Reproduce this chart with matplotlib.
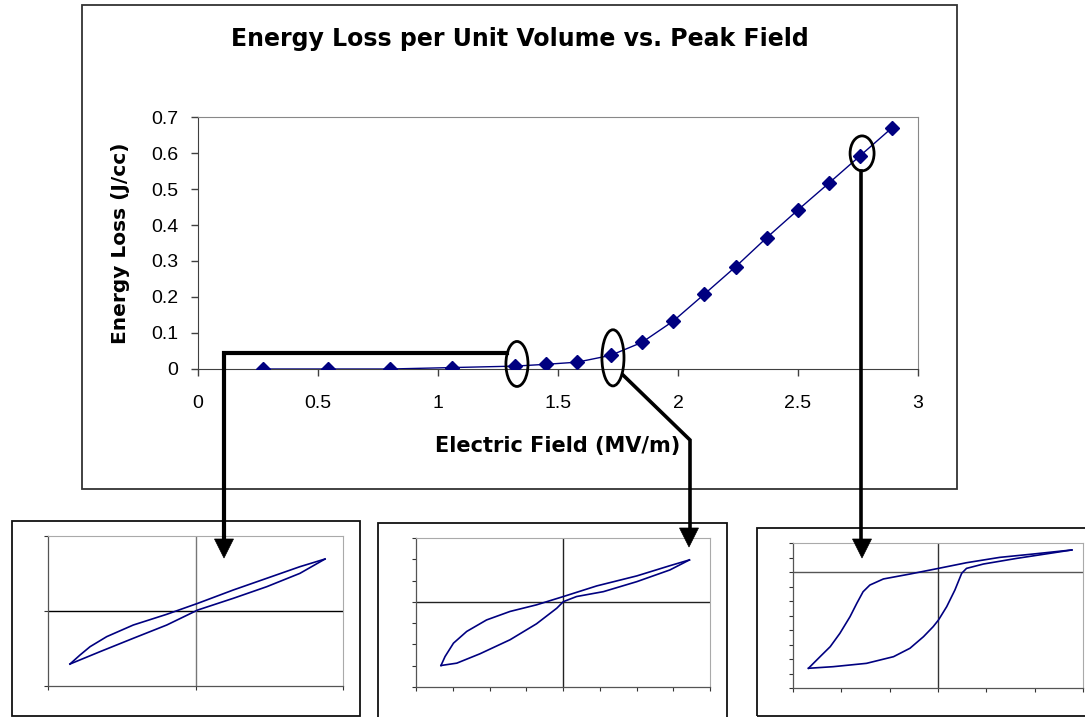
import numpy as np
import matplotlib
matplotlib.use("Agg")
import matplotlib.pyplot as plt
from matplotlib.patches import Ellipse, Rectangle, Polygon
from matplotlib.lines import Line2D
from matplotlib.ticker import FormatStrFormatter

plt.rcParams['font.family'] = ['Liberation Sans', 'DejaVu Sans']

# main curve: energy loss vs peak field
field = [0.27, 0.54, 0.80, 1.06, 1.32, 1.45, 1.58, 1.72, 1.85, 1.98, 2.11, 2.24, 2.37, 2.50, 2.63, 2.76, 2.89]
loss = [0.0, 0.0, 0.0, 0.004, 0.008, 0.013, 0.019, 0.038, 0.074, 0.133, 0.208, 0.284, 0.365, 0.442, 0.517, 0.593, 0.669]

# circled points (centre x, centre y, width, height) in data units
circles = [(1.329, 0.014, 0.092, 0.125),
           (1.729, 0.031, 0.092, 0.156),
           (2.767, 0.599, 0.100, 0.097)]

# hysteresis loops (upper and lower branch)
loop1_up_x = [-0.851, -0.783, -0.715, -0.602, -0.422, -0.195, 0.015, 0.256, 0.483, 0.708, 0.878]
loop1_up_y = [-0.707, -0.587, -0.476, -0.342, -0.187, -0.044, 0.102, 0.280, 0.436, 0.591, 0.693]
loop1_dn_x = [-0.851, -0.647, -0.422, -0.195, 0.015, 0.256, 0.483, 0.708, 0.878]
loop1_dn_y = [-0.707, -0.542, -0.364, -0.187, 0.013, 0.169, 0.324, 0.502, 0.693]

loop2_up_x = [-3.32, -3.21, -2.98, -2.62, -2.08, -1.44, -0.72, 0.01, 0.92, 2.01, 2.91, 3.44]
loop2_up_y = [-2.99, -2.57, -1.94, -1.39, -0.85, -0.45, -0.14, 0.25, 0.75, 1.22, 1.70, 1.97]
loop2_dn_x = [-3.32, -2.89, -2.26, -1.44, -0.72, -0.17, 0.01, 0.37, 1.10, 2.01, 2.91, 3.44]
loop2_dn_y = [-2.99, -2.88, -2.44, -1.78, -1.03, -0.30, 0.01, 0.25, 0.48, 0.95, 1.50, 1.97]

loop3_up_x = [-2.68, -2.44, -2.23, -2.03, -1.82, -1.68, -1.55, -1.41, -1.13, -0.58, 0.01, 0.59, 1.28, 1.97, 2.77]
loop3_up_y = [-6.64, -5.84, -5.15, -4.23, -3.08, -2.16, -1.36, -0.90, -0.48, -0.14, 0.25, 0.64, 1.01, 1.24, 1.52]
loop3_dn_x = [-2.68, -2.17, -1.48, -0.92, -0.58, -0.30, -0.10, 0.01, 0.18, 0.35, 0.49, 0.59, 0.94, 1.63, 2.32, 2.77]
loop3_dn_y = [-6.64, -6.53, -6.30, -5.84, -5.26, -4.46, -3.77, -3.31, -2.39, -1.24, -0.09, 0.25, 0.55, 0.94, 1.29, 1.52]

navy = '#000080'
W, H = 1085, 717
wide = ['DejaVu Sans']

fig = plt.figure(figsize=(W / 100, H / 100), dpi=100)


def box(l, t, r, b):
    # pixel box -> figure fraction rect
    return [l / W, 1 - b / H, (r - l) / W, (b - t) / H]


def frame(l, t, r, b, color):
    x0, y0, w, h = box(l, t, r, b)
    fig.add_artist(Rectangle((x0, y0), w, h, transform=fig.transFigure,
                             fill=False, ec=color, lw=1.3, zorder=1))


# outer frames
frame(82, 5, 957, 489, '#333333')
frame(12, 521, 360, 716, '#111111')
frame(378, 523, 727, 720, '#111111')
frame(757, 528, 1092, 716, '#111111')

# main chart
ax = fig.add_axes(box(198, 117, 918, 369))
ax.plot(field, loss, color=navy, lw=1.0, marker='D', ms=7.5, mfc=navy, mec=navy, zorder=3)
ax.set_xlim(0, 3)
ax.set_ylim(0, 0.7)
ax.set_xticks(np.arange(0, 3.01, 0.5))
ax.set_yticks(np.arange(0, 0.71, 0.1))
ax.xaxis.set_major_formatter(FormatStrFormatter('%g'))
ax.yaxis.set_major_formatter(FormatStrFormatter('%g'))
ax.tick_params(direction='out', length=5, width=1, color='#404040', labelsize=14)
ax.tick_params(axis='x', pad=14)
ax.tick_params(axis='y', pad=9)
for s in ['top', 'right']:
    ax.spines[s].set_color('#888888')
for s in ['left', 'bottom']:
    ax.spines[s].set_color('#404040')
ax.set_xlabel('Electric Field (MV/m)', fontsize=15, fontweight='bold', family=wide)
ax.set_ylabel('Energy Loss (J/cc)', fontsize=14.5, fontweight='bold', family=wide)
ax.xaxis.set_label_coords(0.5, -0.329)
ax.xaxis.label.set_va('baseline')
ax.yaxis.set_label_coords(-0.108, 0.5)
ax.yaxis.label.set_va('center')

fig.text(519.5 / W, 1 - 46 / H, 'Energy Loss per Unit Volume vs. Peak Field',
         ha='center', va='baseline', fontsize=17, fontweight='bold', family=wide)

for cx, cy, cw, ch in circles:
    ax.add_patch(Ellipse((cx, cy), cw, ch, fill=False, ec='black', lw=2.0,
                         clip_on=False, zorder=5))


# insets with loops
def inset(rect, ux, uy, dx, dy, xlim, ylim, xt, yt, hcol, vcol):
    a = fig.add_axes(box(*rect))
    a.axhline(0, color=hcol, lw=1.0, zorder=1)
    a.axvline(0, color=vcol, lw=1.0, zorder=1)
    a.plot(ux, uy, color=navy, lw=1.2, zorder=3)
    a.plot(dx, dy, color=navy, lw=1.2, zorder=3)
    a.set_xlim(*xlim)
    a.set_ylim(*ylim)
    a.set_xticks(xt)
    a.set_yticks(yt)
    a.set_xticklabels([])
    a.set_yticklabels([])
    a.tick_params(direction='out', length=3, width=0.8, color='#333333')
    for s in ['top', 'right']:
        a.spines[s].set_color('#aaaaaa')
    for s in ['left', 'bottom']:
        a.spines[s].set_color('#555555')
        a.spines[s].set_linewidth(0.9)
    return a


inset((48, 536, 343, 686), loop1_up_x, loop1_up_y, loop1_dn_x, loop1_dn_y,
      (-1, 1), (-1, 1), [-1, 0, 1], [-1, 0, 1], '#000000', '#777777')
inset((416, 538, 710, 687), loop2_up_x, loop2_up_y, loop2_dn_x, loop2_dn_y,
      (-4, 4), (-4, 3), np.arange(-4, 5), np.arange(-4, 4), '#222222', '#222222')
inset((793, 543, 1083, 688), loop3_up_x, loop3_up_y, loop3_dn_x, loop3_dn_y,
      (-3, 3), (-8, 2), np.arange(-3, 4), np.arange(-8, 3), '#555555', '#333333')


# connector lines with arrow heads (pixel paths)
def connector(pts, tip, lw):
    xs = [p[0] / W for p in pts]
    ys = [1 - p[1] / H for p in pts]
    fig.add_artist(Line2D(xs, ys, transform=fig.transFigure, color='black',
                          lw=lw, solid_joinstyle='miter', zorder=10))
    tx, ty = tip
    head = [(tx - 9.5, ty - 19), (tx + 9.5, ty - 19), (tx, ty)]
    fig.add_artist(Polygon([(x / W, 1 - y / H) for x, y in head], closed=True,
                           transform=fig.transFigure, fc='black', ec='black',
                           lw=0.5, zorder=10))


connector([(507, 353), (224, 353), (224, 541)], (224, 558), 3.0)
connector([(623, 375), (690, 440), (690, 530)], (689, 547), 2.6)
connector([(861, 171), (861, 541)], (862, 558), 2.6)

fig.savefig('out.png', dpi=100)
